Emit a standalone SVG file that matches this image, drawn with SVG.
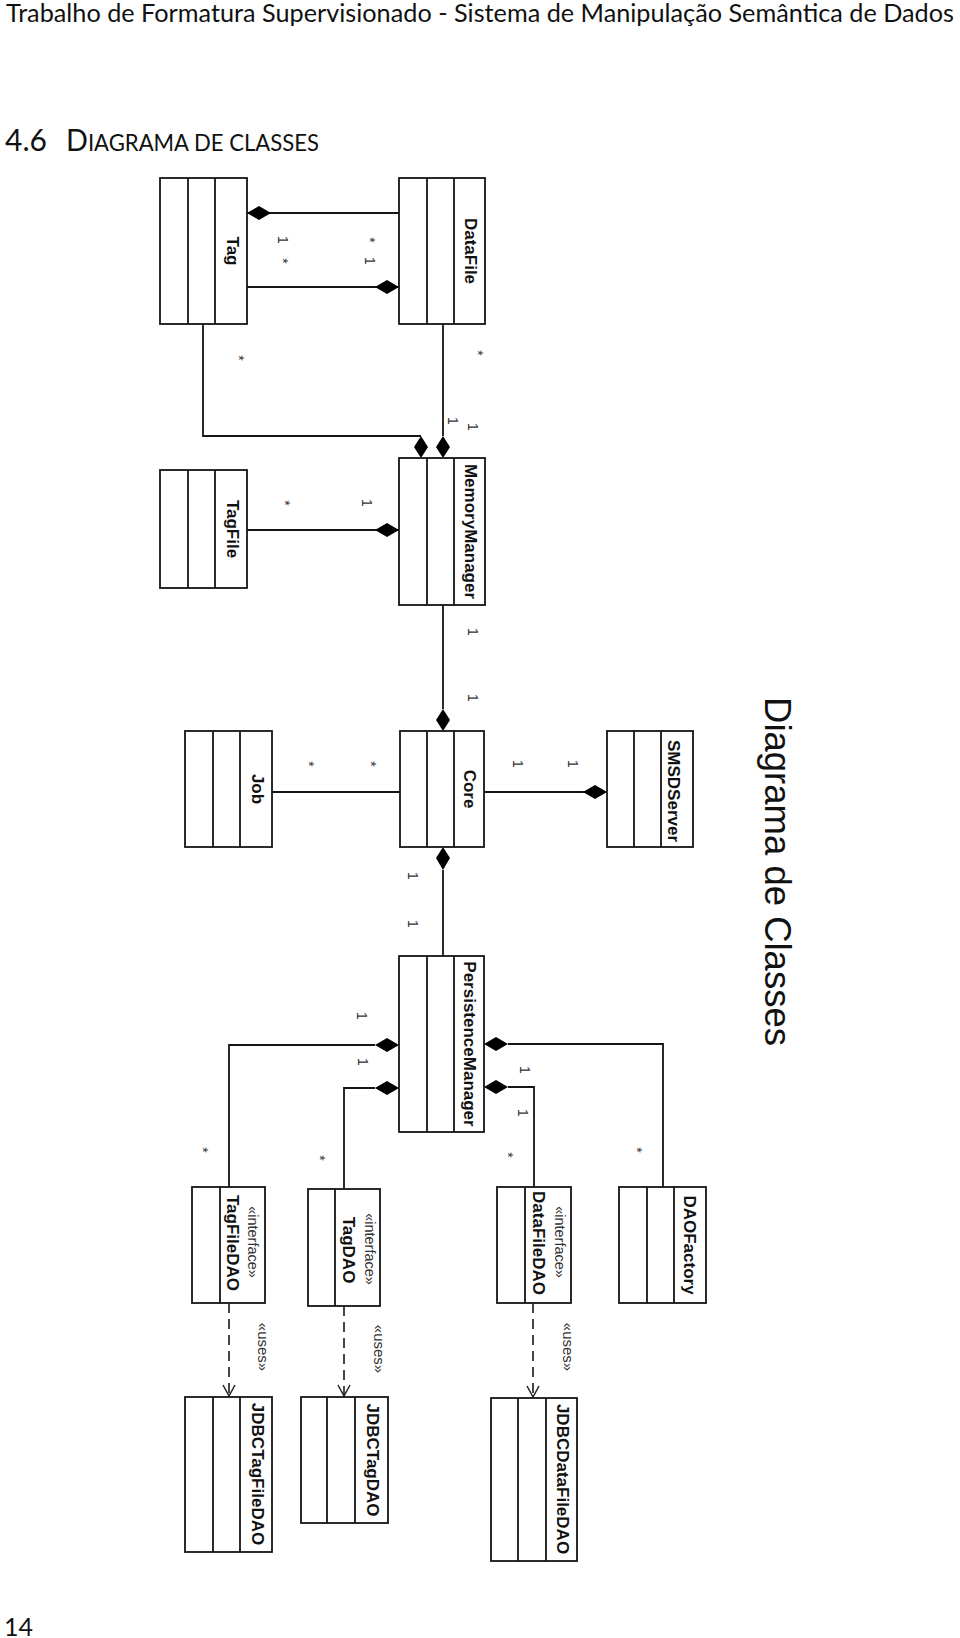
<svg xmlns="http://www.w3.org/2000/svg" width="960" height="1638" viewBox="0 0 960 1638">
<style>
.bx{fill:#fff;stroke:#151515;stroke-width:1.8}
.dv{stroke:#151515;stroke-width:1.8}
.nm{font-family:"Liberation Sans",Arial,sans-serif;font-weight:bold;font-size:17px;fill:#111;text-anchor:middle}
.st{font-family:"Liberation Sans",Arial,sans-serif;font-size:14.5px;fill:#333;text-anchor:middle}
.us{font-family:"Liberation Sans",Arial,sans-serif;font-size:15px;fill:#333;text-anchor:middle}
.ml{font-family:"Liberation Sans",Arial,sans-serif;font-size:14px;fill:#333;text-anchor:middle}
.ln{fill:none;stroke:#151515;stroke-width:1.8}
.ds{fill:none;stroke:#333;stroke-width:1.8;stroke-dasharray:10 6}
.dm{fill:#000}
.pg{font-family:Lato,"Open Sans",sans-serif;fill:#111}
</style>
<defs>
<marker id="open" viewBox="0 0 14 14" refX="12" refY="7" markerWidth="14" markerHeight="14" markerUnits="userSpaceOnUse" orient="auto">
<path d="M1,1 L12,7 L1,13" fill="none" stroke="#222" stroke-width="1.5"/>
</marker>
</defs>

<text class="pg" x="6" y="22" font-size="25" textLength="948" lengthAdjust="spacingAndGlyphs">Trabalho de Formatura Supervisionado - Sistema de Manipulação Semântica de Dados</text>
<text class="pg" x="5" y="151" font-size="30">4.6</text>
<text class="pg" x="66" y="151" font-size="30" textLength="253" lengthAdjust="spacingAndGlyphs">D<tspan font-size="23">IAGRAMA DE CLASSES</tspan></text>
<text class="pg" x="4" y="1636" font-size="25">14</text>

<text font-family="'Liberation Sans',Arial,sans-serif" font-size="36.5" fill="#111" text-anchor="middle" transform="translate(765,871.5) rotate(90)">Diagrama de Classes</text>

<g id="connectors">
<line class="ln" x1="247" y1="213" x2="399" y2="213"/>
<polygon class="dm" points="247,213 259,206 271,213 259,220"/>
<line class="ln" x1="247" y1="287" x2="399" y2="287"/>
<polygon class="dm" points="399,287 387,280 375,287 387,294"/>
<polyline class="ln" points="203,324 203,436 421,436"/>
<polygon class="dm" points="421,436 428,447 421,458 414,447"/>
<line class="ln" x1="443" y1="324" x2="443" y2="436"/>
<polygon class="dm" points="443,436 450,447 443,458 436,447"/>
<line class="ln" x1="247" y1="530" x2="399" y2="530"/>
<polygon class="dm" points="399,530 387,523 375,530 387,537"/>
<line class="ln" x1="443" y1="605" x2="443" y2="709"/>
<polygon class="dm" points="443,709 450,720 443,731 436,720"/>
<line class="ln" x1="272" y1="792" x2="400" y2="792"/>
<line class="ln" x1="484" y1="792" x2="607" y2="792"/>
<polygon class="dm" points="607,792 595,785 583,792 595,799"/>
<line class="ln" x1="443" y1="870" x2="443" y2="956"/>
<polygon class="dm" points="443,847 450,858 443,870 436,858"/>
<polyline class="ln" points="375,1045 229,1045 229,1187"/>
<polygon class="dm" points="399,1045 387,1038 375,1045 387,1052"/>
<polyline class="ln" points="375,1088 344,1088 344,1189"/>
<polygon class="dm" points="399,1088 387,1081 375,1088 387,1095"/>
<polyline class="ln" points="508,1087 534,1087 534,1187"/>
<polygon class="dm" points="484,1087 496,1080 508,1087 496,1094"/>
<polyline class="ln" points="508,1044 663,1044 663,1187"/>
<polygon class="dm" points="484,1044 496,1037 508,1044 496,1051"/>
<line class="ds" x1="229" y1="1303" x2="229" y2="1396" marker-end="url(#open)"/>
<line class="ds" x1="344" y1="1306" x2="344" y2="1396" marker-end="url(#open)"/>
<line class="ds" x1="533" y1="1303" x2="533" y2="1397" marker-end="url(#open)"/>

<text class="ml" transform="translate(278,240) rotate(90)">1</text>
<text class="ml" transform="translate(278,261) rotate(90)">*</text>
<text class="ml" transform="translate(365,240) rotate(90)">*</text>
<text class="ml" transform="translate(365,261) rotate(90)">1</text>
<text class="ml" transform="translate(473,353) rotate(90)">*</text>
<text class="ml" transform="translate(234,358) rotate(90)">*</text>
<text class="ml" transform="translate(448,421) rotate(90)">1</text>
<text class="ml" transform="translate(468,427) rotate(90)">1</text>
<text class="ml" transform="translate(280,503) rotate(90)">*</text>
<text class="ml" transform="translate(362,503) rotate(90)">1</text>
<text class="ml" transform="translate(468,632) rotate(90)">1</text>
<text class="ml" transform="translate(468,698) rotate(90)">1</text>
<text class="ml" transform="translate(304,764) rotate(90)">*</text>
<text class="ml" transform="translate(366,764) rotate(90)">*</text>
<text class="ml" transform="translate(513,764) rotate(90)">1</text>
<text class="ml" transform="translate(568,764) rotate(90)">1</text>
<text class="ml" transform="translate(408,876) rotate(90)">1</text>
<text class="ml" transform="translate(408,924) rotate(90)">1</text>
<text class="ml" transform="translate(357,1016) rotate(90)">1</text>
<text class="ml" transform="translate(358,1062) rotate(90)">1</text>
<text class="ml" transform="translate(520,1070) rotate(90)">1</text>
<text class="ml" transform="translate(518,1113) rotate(90)">1</text>
<text class="ml" transform="translate(198,1150) rotate(90)">*</text>
<text class="ml" transform="translate(315,1158) rotate(90)">*</text>
<text class="ml" transform="translate(503,1155) rotate(90)">*</text>
<text class="ml" transform="translate(632,1150) rotate(90)">*</text>
<text class="us" transform="translate(258,1347) rotate(90)">«uses»</text>
<text class="us" transform="translate(374,1349) rotate(90)">«uses»</text>
<text class="us" transform="translate(563,1347) rotate(90)">«uses»</text>
</g>

<g id="Tag"><rect class="bx" x="160" y="178" width="87" height="146"/><line class="dv" x1="188" y1="178" x2="188" y2="324"/><line class="dv" x1="215" y1="178" x2="215" y2="324"/><text class="nm" transform="translate(227,251) rotate(90)">Tag</text></g>
<g id="DataFile"><rect class="bx" x="399" y="178" width="86" height="146"/><line class="dv" x1="427" y1="178" x2="427" y2="324"/><line class="dv" x1="454" y1="178" x2="454" y2="324"/><text class="nm" transform="translate(465,251) rotate(90)">DataFile</text></g>
<g id="MemoryManager"><rect class="bx" x="399" y="458" width="86" height="147"/><line class="dv" x1="427" y1="458" x2="427" y2="605"/><line class="dv" x1="454" y1="458" x2="454" y2="605"/><text class="nm" transform="translate(465,531.5) rotate(90)">MemoryManager</text></g>
<g id="TagFile"><rect class="bx" x="160" y="470" width="87" height="118"/><line class="dv" x1="188" y1="470" x2="188" y2="588"/><line class="dv" x1="215" y1="470" x2="215" y2="588"/><text class="nm" transform="translate(227,529) rotate(90)">TagFile</text></g>
<g id="Job"><rect class="bx" x="185" y="731" width="87" height="116"/><line class="dv" x1="213" y1="731" x2="213" y2="847"/><line class="dv" x1="240" y1="731" x2="240" y2="847"/><text class="nm" transform="translate(252,789) rotate(90)">Job</text></g>
<g id="Core"><rect class="bx" x="400" y="731" width="84" height="116"/><line class="dv" x1="427" y1="731" x2="427" y2="847"/><line class="dv" x1="454" y1="731" x2="454" y2="847"/><text class="nm" transform="translate(464,789) rotate(90)">Core</text></g>
<g id="SMSDServer"><rect class="bx" x="607" y="731" width="86" height="116"/><line class="dv" x1="634" y1="731" x2="634" y2="847"/><line class="dv" x1="661" y1="731" x2="661" y2="847"/><text class="nm" transform="translate(668,791) rotate(90)">SMSDServer</text></g>
<g id="PersistenceManager"><rect class="bx" x="399" y="956" width="85" height="176"/><line class="dv" x1="427" y1="956" x2="427" y2="1132"/><line class="dv" x1="454" y1="956" x2="454" y2="1132"/><text class="nm" transform="translate(464,1044) rotate(90)">PersistenceManager</text></g>
<g id="TagFileDAO"><rect class="bx" x="192" y="1187" width="73" height="116"/><line class="dv" x1="220" y1="1187" x2="220" y2="1303"/><text class="st" transform="translate(248,1242) rotate(90)">«interface»</text><text class="nm" transform="translate(227,1243) rotate(90)">TagFileDAO</text></g>
<g id="TagDAO"><rect class="bx" x="308" y="1189" width="72" height="117"/><line class="dv" x1="335" y1="1189" x2="335" y2="1306"/><text class="st" transform="translate(365,1249) rotate(90)">«interface»</text><text class="nm" transform="translate(343,1250) rotate(90)">TagDAO</text></g>
<g id="DataFileDAO"><rect class="bx" x="497" y="1187" width="74" height="116"/><line class="dv" x1="525" y1="1187" x2="525" y2="1303"/><text class="st" transform="translate(555,1242) rotate(90)">«interface»</text><text class="nm" transform="translate(533,1243) rotate(90)">DataFileDAO</text></g>
<g id="DAOFactory"><rect class="bx" x="619" y="1187" width="87" height="116"/><line class="dv" x1="647" y1="1187" x2="647" y2="1303"/><line class="dv" x1="674" y1="1187" x2="674" y2="1303"/><text class="nm" transform="translate(684,1245) rotate(90)">DAOFactory</text></g>
<g id="JDBCTagFileDAO"><rect class="bx" x="185" y="1397" width="87" height="155"/><line class="dv" x1="213" y1="1397" x2="213" y2="1552"/><line class="dv" x1="240" y1="1397" x2="240" y2="1552"/><text class="nm" transform="translate(252,1474) rotate(90)">JDBCTagFileDAO</text></g>
<g id="JDBCTagDAO"><rect class="bx" x="301" y="1397" width="87" height="126"/><line class="dv" x1="327" y1="1397" x2="327" y2="1523"/><line class="dv" x1="355" y1="1397" x2="355" y2="1523"/><text class="nm" transform="translate(367,1460) rotate(90)">JDBCTagDAO</text></g>
<g id="JDBCDataFileDAO"><rect class="bx" x="491" y="1398" width="86" height="163"/><line class="dv" x1="518" y1="1398" x2="518" y2="1561"/><line class="dv" x1="546" y1="1398" x2="546" y2="1561"/><text class="nm" transform="translate(557,1479) rotate(90)">JDBCDataFileDAO</text></g>
</svg>
